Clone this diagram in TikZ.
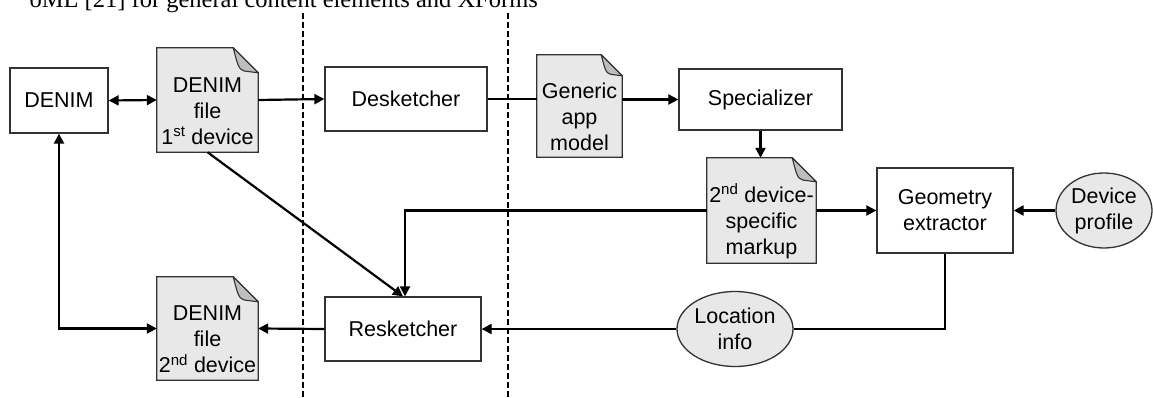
\documentclass[tikz,border=0pt]{standalone}
\usepackage{fontspec}
\setmainfont{Liberation Sans}
\newfontfamily\headserif{Liberation Serif}
\usetikzlibrary{arrows.meta,calc,shapes.geometric}
\pgfdeclarelayer{bg}
\pgfsetlayers{bg,main}
\newcommand\docshape[2]{%
  \begin{pgfonlayer}{bg}
  \path let \p1=(#1.north west), \p2=(#1.south east) in
    [fill=docgray, draw=boxline, line width=1.3pt, line join=miter]
    (\x1,\y1) -- (\x2-#2,\y1) -- (\x2,\y1-#2) -- (\x2,\y2) -- (\x1,\y2) -- cycle;
  \path let \p1=(#1.north west), \p2=(#1.south east) in
    [fill=flapgray, draw=boxline, line width=1.1pt, line join=round]
    (\x2-#2,\y1) .. controls (\x2-0.85*#2,\y1-0.55*#2) and (\x2-0.8*#2,\y1-0.9*#2) .. (\x2-0.55*#2,\y1-0.93*#2)
    -- (\x2,\y1-#2) -- cycle;
  \end{pgfonlayer}}
\definecolor{docgray}{RGB}{232,232,232}
\definecolor{flapgray}{RGB}{190,190,190}
\definecolor{boxline}{RGB}{50,50,50}
\begin{document}
\begin{tikzpicture}[x=1pt,y=-1pt,
  >={Triangle[length=10pt,width=10pt]},
  lbl/.style={font=\fontsize{21.5}{26}\selectfont, align=center},
  box/.style={lbl, draw=boxline, line width=1.3pt, fill=white, inner sep=0pt},
  docnode/.style={inner sep=0pt},
  txt/.style={lbl, inner sep=0pt},
  ell/.style={lbl, ellipse, draw=boxline, line width=1.3pt, fill=docgray, inner sep=0pt},
  conn/.style={line width=2.2pt, draw=black},
  sep/.style={line width=2pt, dash pattern=on 6pt off 3pt},
]
\useasboundingbox (0,0) rectangle (1153,398);
\clip (0,0) rectangle (1153,398);

% cut-off text line at the top
\node[anchor=base east, font=\headserif\fontsize{24.5}{26}\selectfont, inner sep=0pt] (head) at (538,8)
  {oML [21] for general content elements and XForms};

% separators
\coordinate (d1t) at (303,13);
\coordinate (d1b) at (303,400);
\coordinate (d2t) at (508,13);
\coordinate (d2b) at (508,400);
\draw[sep] (d1t) -- (d1b);
\draw[sep] (d2t) -- (d2b);

% boxes
\node[box, minimum width=98pt, minimum height=65pt] (denim) at (59,100.5) {DENIM};
\node[box, minimum width=162pt, minimum height=64pt] (desk) at (406,99) {Desketcher};
\node[box, minimum width=163pt, minimum height=61pt] (spec) at (760.5,99.5) {Specializer};
\node[box, minimum width=136pt, minimum height=85pt] (geo) at (945,210.5) {Geometry\\extractor};
\node[box, minimum width=156pt, minimum height=64pt] (resk) at (403,329) {Resketcher};

% documents
\node[docnode, minimum width=101pt, minimum height=104pt] (f1) at (207.5,100) {};
\node[docnode, minimum width=85pt, minimum height=102pt] (gen) at (579.5,106) {};
\node[docnode, minimum width=109pt, minimum height=105pt] (mk) at (761.5,210.5) {};
\node[docnode, minimum width=101pt, minimum height=103pt] (f2) at (207.5,328.5) {};
\docshape{f1}{25pt}
\docshape{gen}{21pt}
\docshape{mk}{24pt}
\docshape{f2}{25pt}
\node[txt] (f1t) at ($(f1.center)+(0,11)$) {DENIM\\file\\1\textsuperscript{st} device};
\node[txt] (gent) at ($(gen.center)+(0,11)$) {Generic\\app\\model};
\node[txt] (mkt) at ($(mk.center)+(0,11)$) {2\textsuperscript{nd} device-\\specific\\markup};
\node[txt] (f2t) at ($(f2.center)+(0,11)$) {DENIM\\file\\2\textsuperscript{nd} device};

% ellipses
\node[ell, minimum width=96pt, minimum height=75pt] (dp) at (1104,210.5) {Device\\profile};
\node[ell, minimum width=116pt, minimum height=75pt] (loc) at (735,329) {Location\\info};

% connectors
\draw[conn, <->] (denim.east) -- (f1.west);
\draw[conn, ->] (f1.east) -- (desk.west);
\draw[conn] (desk.east) -- (desk.east -| gen.west);
\draw[conn, ->] (gen.east |- spec.west) -- (spec.west);
\draw[conn, ->] (spec.south) -- (spec.south |- mk.north);
\draw[conn, ->] (mk.east) -- (geo.west);
\draw[conn, ->] (dp.west) -- (geo.east);
\draw[conn] (geo.south) |- (loc.east);
\draw[conn, ->] (loc.west) -- (resk.east);
\draw[conn, ->] (mk.west) -| ($(resk.north)+(2,0)$);
\draw[conn, ->] (f1.south) -- (resk.north);
\draw[conn, ->] (resk.west) -- (f2.west -| f2.east);
\draw[conn, <->] (denim.south) |- (f2.west);
\end{tikzpicture}
\end{document}
